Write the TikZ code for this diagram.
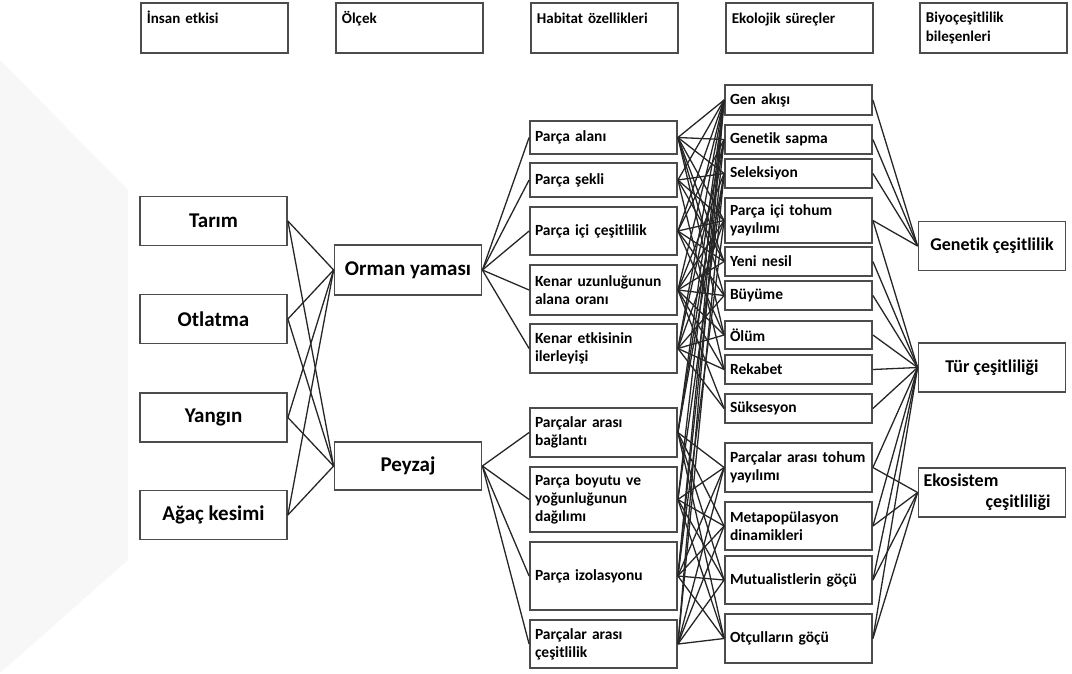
\documentclass[tikz,border=0pt]{standalone}
\usepackage{fontspec}
\setmainfont{Carlito}[Ligatures=NoCommon]
\usepackage{tikz}
\usetikzlibrary{positioning}

\begin{document}
\begin{tikzpicture}[
    x=1pt, y=-1pt,
    headbox/.style={rectangle, draw=black!70, line width=1.8pt, anchor=north west, minimum width=147pt, minimum height=50pt, text width=135pt, inner xsep=6pt, align=left, font=\fontsize{15}{19}\selectfont\bfseries},
    oneline/.style={text height=11pt, text depth=19pt},
    bigbox/.style={rectangle, draw=black!70, line width=1.8pt, minimum width=147pt, minimum height=49pt, align=center, font=\fontsize{21}{24}\selectfont\bfseries},
    biobox/.style={bigbox, font=\fontsize{18}{21}\selectfont\bfseries},
    featbox/.style={rectangle, draw=black!70, line width=1.8pt, minimum width=147pt, text width=137pt, inner xsep=5pt, align=left, font=\fontsize{15.5}{18}\selectfont\bfseries},
    link/.style={black!85, line width=1.3pt},
]
\useasboundingbox (0,0) rectangle (1072,673);

% faint watermark
\fill[black!3] (0,60) -- (128,190) -- (128,560) -- (0,673) -- cycle;

% Column headers
\node[headbox, oneline] (hins) at (140,2) {İnsan etkisi};
\node[headbox, oneline] (holc) at (335,2) {Ölçek};
\node[headbox, oneline] (hhab) at (530,2) {Habitat özellikleri};
\node[headbox, oneline] (heko) at (725,2) {Ekolojik süreçler};
\node[headbox] (hbio) at (919,2) {Biyoçeşitlilik\\bileşenleri};

% Human impacts
\node[bigbox] (tarim) at (213.5,221) {Tarım};
\node[bigbox] (otlatma) at (213.5,319) {Otlatma};
\node[bigbox] (yangin) at (213.5,417.5) {Yangın};
\node[bigbox] (agac) at (213.5,515) {Ağaç kesimi};

% Scale
\node[bigbox, minimum height=50pt] (orman) at (408,270) {Orman yaması};
\node[bigbox, minimum height=48pt] (peyzaj) at (408,466) {Peyzaj};

% Habitat features
\node[featbox, minimum height=33pt] (hab1) at (603.5,137.5) {Parça alanı};
\node[featbox, minimum height=34pt] (hab2) at (603.5,180) {Parça şekli};
\node[featbox, minimum height=48pt] (hab3) at (603.5,231) {Parça içi çeşitlilik};
\node[featbox, minimum height=50pt] (hab4) at (603.5,290) {Kenar uzunluğunun\\alana oranı};
\node[featbox, minimum height=49pt] (hab5) at (603.5,348.5) {Kenar etkisinin\\ilerleyişi};
\node[featbox, minimum height=49pt] (hab6) at (603.5,432.5) {Parçalar arası\\bağlantı};
\node[featbox, minimum height=65pt] (hab7) at (603.5,499.5) {Parça boyutu ve\\yoğunluğunun\\dağılımı};
\node[featbox, minimum height=68pt] (hab8) at (603.5,576) {Parça izolasyonu};
\node[featbox, minimum height=48pt] (hab9) at (603.5,644) {Parçalar arası\\çeşitlilik};

% Ecological processes
\node[featbox, minimum height=30pt] (proc1) at (798.5,100) {Gen akışı};
\node[featbox, minimum height=29pt] (proc2) at (798.5,139.5) {Genetik sapma};
\node[featbox, minimum height=29pt] (proc3) at (798.5,173.5) {Seleksiyon};
\node[featbox, minimum height=45pt] (proc4) at (798.5,220.5) {Parça içi tohum\\yayılımı};
\node[featbox, minimum height=29pt] (proc5) at (798.5,261.5) {Yeni nesil};
\node[featbox, minimum height=29pt] (proc6) at (798.5,295.5) {Büyüme};
\node[featbox, minimum height=28pt] (proc7) at (798.5,335) {Ölüm};
\node[featbox, minimum height=29pt] (proc8) at (798.5,369.5) {Rekabet};
\node[featbox, minimum height=29pt] (proc9) at (798.5,408.5) {Süksesyon};
\node[featbox, minimum height=49pt] (proc10) at (798.5,467.5) {\mbox{Parçalar arası tohum}\\yayılımı};
\node[featbox, minimum height=48pt] (proc11) at (798.5,526) {Metapopülasyon\\dinamikleri};
\node[featbox, minimum height=48pt] (proc12) at (798.5,580) {Mutualistlerin göçü};
\node[featbox, minimum height=49pt] (proc13) at (798.5,638.5) {Otçulların göçü};

% Biodiversity components
\node[biobox] (genc) at (992,246) {Genetik çeşitlilik};
\node[biobox] (turc) at (992,367.5) {Tür çeşitliliği};
\node[biobox, align=left, text width=137pt] (ekoc) at (992,492.5) {Ekosistem\\\hspace*{62pt}çeşitliliği};

% Impacts -> scale
\foreach \s in {tarim,otlatma,yangin,agac} {
  \draw[link] (\s.east) -- (orman.west);
  \draw[link] (\s.east) -- (peyzaj.west);
}

% Scale -> habitat
\foreach \h in {1,...,5} \draw[link] (orman.east) -- (hab\h.west);
\foreach \h in {6,...,9} \draw[link] (peyzaj.east) -- (hab\h.west);

% Habitat -> processes
\foreach \h/\plist in {1/{1,2,3,4,5,6,7}, 2/{1,3,4,5,8}, 3/{1,2,4,5,6,7},
    4/{1,3,4,5,6,7,8,9}, 5/{1,2,4,6,7,8,9}, 6/{1,2,3,10,11,12,13},
    7/{1,3,10,11,12,13}, 8/{1,2,4,10,11,12,13}, 9/{1,3,10,11,12,13}}
  \foreach \p in \plist \draw[link] (hab\h.east) -- (proc\p.west);

% Processes -> biodiversity
\foreach \p in {1,...,4} \draw[link] (proc\p.east) -- (genc.west);
\foreach \p in {4,...,13} \draw[link] (proc\p.east) -- (turc.west);
\foreach \p in {10,...,13} \draw[link] (proc\p.east) -- (ekoc.west);

\end{tikzpicture}
\end{document}
